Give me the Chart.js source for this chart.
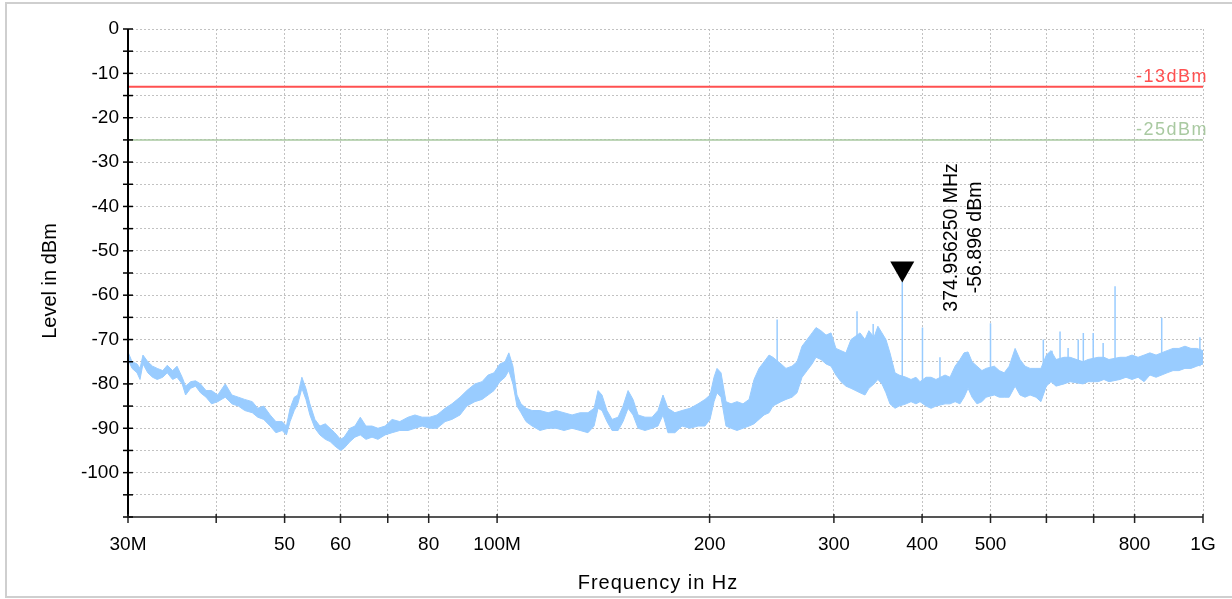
<!DOCTYPE html>
<html><head><meta charset="utf-8">
<script src="https://cdn.jsdelivr.net/npm/chart.js@4/dist/chart.umd.min.js"></script>
<style>
html,body{margin:0;padding:0;background:#fff;overflow:hidden;}
#frame{position:absolute;left:5px;top:2px;width:1250px;height:596px;border:2px solid #cfcfcf;box-sizing:border-box;}
#c{position:absolute;left:0;top:0;}
</style></head><body>
<div id="frame"></div>
<canvas id="c" width="1232" height="599"></canvas>
<script>
// ---- data (frequency in MHz, level in dBm) ----
const traceFreqMHz = [30.0,30.4,30.9,31.2,31.5,32.0,32.5,33.0,33.6,34.1,34.7,35.2,35.8,36.2,36.8,37.4,38.0,38.7,39.4,40.2,41.2,42.1,43.0,43.9,45.0,45.8,46.7,47.7,48.6,49.6,50.3,50.9,51.6,52.2,52.9,53.6,54.3,55.2,56.1,57.1,58.0,58.9,60.0,60.7,61.9,62.9,64.0,65.2,66.5,67.8,69.4,71.0,72.8,74.8,76.5,78.3,80.3,82.2,84.4,86.3,88.6,90.6,93.0,95.2,97.1,99.0,100.9,102.6,103.9,105.3,106.7,108.1,109.9,112.1,115.0,118.1,121.2,124.4,127.7,131.1,134.5,137.2,139.0,140.8,143.1,145.5,148.4,150.8,153.3,155.8,158.4,162.0,165.8,169.0,171.8,174.6,178.6,182.8,187.6,192.6,197.0,200.3,202.9,204.9,207.6,211.0,214.5,218.7,223.0,227.5,231.2,235.0,238.9,242.8,245.9,252.5,256.6,261.7,266.0,270.4,274.9,279.4,283.0,287.6,292.4,297.2,302.0,307.0,312.0,317.2,326.7,332.0,336.3,341.9,346.3,350.9,355.5,360.2,366.2,371.1,379.7,385.8,392.1,397.3,405.2,411.9,418.5,431.1,438.1,445.5,452.6,458.7,464.7,470.8,478.4,486.2,492.8,506.3,514.5,522.9,531.4,541.8,550.5,559.6,568.9,579.9,589.4,600.0,609.1,619.1,635.5,648.3,676.1,687.3,710.2,723.9,735.8,762.9,777.9,793.3,809.1,825.2,841.0,858.0,889.5,907.0,924.6,942.9,961.5,980.0,1000.0];
const traceUpper = [-72.8,-75.0,-75.5,-76.5,-73.5,-75.0,-76.0,-76.5,-77.0,-75.8,-77.0,-76.0,-78.5,-80.5,-79.5,-79.3,-80.0,-81.5,-81.5,-82.5,-80.0,-82.5,-83.0,-83.5,-84.0,-85.5,-85.0,-87.0,-88.5,-88.5,-89.5,-85.5,-83.0,-82.5,-78.5,-81.0,-84.5,-88.0,-89.5,-89.0,-90.0,-91.0,-92.5,-92.0,-90.0,-89.5,-87.5,-89.5,-89.5,-90.0,-89.5,-88.0,-88.5,-87.5,-87.0,-87.5,-87.5,-87.0,-85.5,-84.5,-83.0,-81.5,-80.0,-79.5,-78.0,-77.5,-75.5,-75.0,-73.0,-76.0,-82.5,-84.5,-85.5,-86.0,-86.0,-86.5,-86.0,-86.5,-87.0,-86.5,-86.5,-85.5,-81.5,-82.5,-86.0,-88.0,-87.5,-85.0,-81.5,-83.5,-87.0,-87.5,-87.5,-86.0,-82.5,-85.5,-86.5,-86.0,-85.5,-84.5,-83.5,-82.5,-78.5,-76.5,-77.5,-84.0,-84.5,-84.0,-84.5,-83.5,-79.0,-76.5,-75.0,-73.5,-74.0,-75.5,-76.5,-76.0,-75.0,-71.5,-70.0,-68.5,-67.3,-68.0,-69.0,-68.5,-72.0,-72.5,-73.0,-70.0,-68.5,-70.0,-68.0,-69.5,-67.0,-68.5,-70.0,-73.0,-77.5,-78.0,-78.5,-79.0,-78.5,-79.5,-78.5,-78.5,-79.0,-78.0,-78.5,-76.0,-74.5,-73.0,-72.8,-75.0,-76.0,-77.0,-76.5,-76.0,-77.0,-77.5,-76.0,-72.0,-74.5,-76.0,-76.5,-76.5,-76.5,-73.5,-72.5,-74.5,-74.0,-74.0,-75.0,-74.5,-74.0,-74.0,-74.5,-74.0,-74.0,-73.5,-74.0,-73.5,-73.0,-73.5,-72.5,-72.0,-72.0,-71.5,-72.0,-72.0,-72.5];
const traceLower = [-74.5,-76.5,-77.5,-79.0,-75.5,-77.5,-78.5,-79.0,-78.5,-77.5,-79.0,-78.5,-80.0,-82.5,-81.0,-80.5,-82.0,-83.0,-84.5,-84.0,-83.0,-84.5,-85.0,-86.0,-86.5,-87.5,-88.0,-89.5,-91.0,-90.5,-91.5,-88.5,-86.0,-84.5,-81.0,-83.5,-87.0,-90.0,-91.5,-92.5,-93.0,-94.0,-95.0,-94.5,-93.0,-92.0,-91.5,-92.5,-92.0,-92.5,-91.5,-91.0,-90.5,-90.5,-90.0,-89.5,-90.0,-90.0,-88.5,-88.0,-87.0,-85.0,-84.0,-83.5,-82.5,-81.5,-79.5,-78.5,-77.0,-80.0,-85.0,-86.5,-88.5,-89.5,-90.5,-90.0,-90.0,-90.5,-90.0,-90.5,-91.0,-89.5,-85.5,-86.0,-88.5,-90.5,-90.5,-88.5,-85.5,-87.0,-90.0,-90.5,-90.0,-89.5,-87.0,-91.0,-91.0,-89.5,-90.0,-89.5,-89.5,-88.0,-84.0,-82.0,-83.0,-89.5,-90.0,-90.5,-90.0,-89.5,-89.0,-88.0,-87.0,-86.5,-85.0,-84.0,-83.5,-83.0,-82.0,-78.5,-77.0,-75.5,-74.0,-74.5,-75.5,-76.0,-78.0,-79.5,-80.5,-81.0,-82.0,-82.5,-81.0,-80.0,-79.0,-80.0,-82.0,-84.5,-85.5,-85.0,-84.5,-84.0,-84.5,-84.0,-85.0,-85.5,-85.0,-84.5,-84.5,-84.0,-84.5,-83.0,-81.0,-83.0,-84.5,-84.0,-83.0,-82.5,-83.0,-83.0,-83.0,-80.5,-82.5,-83.0,-82.5,-83.0,-84.0,-80.5,-79.5,-80.5,-80.0,-79.5,-80.0,-79.5,-79.5,-79.0,-79.5,-79.0,-78.5,-79.0,-78.5,-79.5,-78.0,-78.5,-77.5,-77.0,-77.0,-76.5,-76.5,-76.0,-75.5];
// narrow single-frequency spikes
const spikeFreqMHz = [249.3,323.5,341.0,374.95625,400.5,424.0,500.0,594.0,611.0,627.3,644.0,665.6,676.8,699.0,722.0,750.6,874.0,990.0];
const spikeTop     = [-65.5,-63.6,-66.5,-56.896,-67.3,-74.0,-66.3,-70.0,-72.5,-68.2,-71.9,-70.0,-68.5,-68.5,-70.8,-58.0,-65.1,-69.5];
const spikeBase    = [-82.0,-80.0,-78.0,-83.0,-82.0,-83.0,-81.0,-80.0,-79.0,-79.0,-79.0,-79.0,-79.0,-79.0,-78.0,-78.0,-77.0,-76.0];
// marker
const markerFreqMHz = 374.95625;
const markerLevel = -56.896;
const markerText = ['374.956250 MHz', '-56.896 dBm'];
// limit lines
const limitLevels = [-13, -25];
const limitLabels = ['-13dBm', '-25dBm'];
const limitColors = ['#ff5050', '#a9c9a1'];
const limitWidths = [2, 1.5];
// axes
const xTickValues = [30,40,50,60,70,80,100,200,300,400,500,600,700,800,1000];
const xTickLabels = ['30M','','50','60','','80','100M','200','300','400','500','','','800','1G'];
const yMin = -110, yMax = 0, yStep = 5;
const xTitle = 'Frequency in Hz';
const yTitle = 'Level in dBm';

const FONT = "'Liberation Sans', Arial, Helvetica, sans-serif";
const TRACE = '#99ccff';

const upperPts = traceFreqMHz.map((f,i)=>({x:f, y:traceUpper[i]}));
const lowerPts = traceFreqMHz.map((f,i)=>({x:f, y:traceLower[i]}));
const spikePts = [];
spikeFreqMHz.forEach((f,i)=>{ spikePts.push({x:f,y:spikeBase[i]},{x:f,y:spikeTop[i]},{x:f,y:null}); });
const limitSets = limitLevels.map((lv,i)=>({
  data:[{x:xTickValues[0],y:lv},{x:xTickValues[xTickValues.length-1],y:lv}],
  borderColor:limitColors[i], borderWidth:limitWidths[i], pointRadius:0, fill:false
}));

const yTickList = [];
for (let v = yMin; v <= yMax; v += yStep) yTickList.push(v);

function spacedText(ctx, s, sp){ try { ctx.letterSpacing = sp; } catch(e) {} }

const deco = {
  id:'deco',
  afterDatasetsDraw(chart){
    const {ctx, chartArea:a, scales:{x, y}} = chart;
    ctx.save();
    // axis lines
    ctx.strokeStyle = '#555'; ctx.lineWidth = 2;
    ctx.beginPath(); ctx.moveTo(a.left, a.bottom); ctx.lineTo(a.right, a.bottom); ctx.stroke();
    ctx.strokeStyle = '#000'; ctx.lineWidth = 2;
    ctx.beginPath(); ctx.moveTo(a.left, a.top); ctx.lineTo(a.left, a.bottom+1); ctx.stroke();
    // crossing ticks on y
    ctx.lineWidth = 1.5;
    yTickList.forEach(v=>{
      const py = y.getPixelForValue(v);
      ctx.beginPath(); ctx.moveTo(a.left-5, py); ctx.lineTo(a.left+5, py); ctx.stroke();
    });
    // ticks on x
    ctx.strokeStyle = '#222';
    xTickValues.forEach(v=>{
      const px = x.getPixelForValue(v);
      ctx.beginPath(); ctx.moveTo(px, a.bottom-3); ctx.lineTo(px, a.bottom+6); ctx.stroke();
    });
    // limit labels
    ctx.font = '18px ' + FONT;
    ctx.textAlign = 'right'; ctx.textBaseline = 'alphabetic';
    spacedText(ctx, '', '1.5px');
    limitLevels.forEach((lv,i)=>{
      ctx.fillStyle = limitColors[i];
      ctx.fillText(limitLabels[i], a.right+5, y.getPixelForValue(lv)-5);
    });
    spacedText(ctx, '', '0px');
    // marker triangle
    const mx = x.getPixelForValue(markerFreqMHz), my = y.getPixelForValue(markerLevel);
    ctx.fillStyle = '#000';
    ctx.beginPath(); ctx.moveTo(mx, my+1); ctx.lineTo(mx-12, my-20); ctx.lineTo(mx+12, my-20); ctx.closePath(); ctx.fill();
    // marker text
    ctx.save();
    ctx.translate(mx+49, my-44); ctx.rotate(-Math.PI/2);
    ctx.font = '19.5px ' + FONT; ctx.textAlign = 'center'; ctx.textBaseline = 'middle';
    ctx.fillText(markerText[0], 0, 0);
    ctx.fillText(markerText[1], 0, 24);
    ctx.restore();
    // axis titles
    ctx.fillStyle = '#000';
    ctx.font = '20px ' + FONT; ctx.textAlign = 'center'; ctx.textBaseline = 'middle';
    spacedText(ctx, '', '1px');
    ctx.fillText(xTitle, 658, 583);
    spacedText(ctx, '', '0px');
    ctx.save();
    ctx.translate(50, 281); ctx.rotate(-Math.PI/2);
    ctx.font = '20px ' + FONT;
    ctx.fillText(yTitle, 0, 0);
    ctx.restore();
    ctx.restore();
  }
};

new Chart(document.getElementById('c'), {
  type:'line',
  data:{ datasets:[
    {data:upperPts, borderColor:TRACE, backgroundColor:TRACE, borderWidth:1, pointRadius:0, fill:'+1', tension:0},
    {data:lowerPts, borderColor:TRACE, borderWidth:1, pointRadius:0, fill:false, tension:0},
    {data:spikePts, borderColor:TRACE, borderWidth:1.5, pointRadius:0, fill:false, spanGaps:false},
    ...limitSets
  ]},
  options:{
    responsive:false, animation:false, devicePixelRatio:1,
    layout:{padding:{top:29, right:29, left:0, bottom:0}},
    plugins:{legend:{display:false}, tooltip:{enabled:false}},
    elements:{line:{borderJoinStyle:'round'}},
    scales:{
      x:{type:'logarithmic', min:30, max:1000,
        afterBuildTicks:s=>{ s.ticks = xTickValues.map(v=>({value:v})); },
        afterFit:s=>{ s.height = 82; },
        ticks:{autoSkip:false, maxRotation:0, minRotation:0, padding:16, color:'#000',
          font:{family:FONT, size:19},
          callback:(v)=>{ const k = xTickValues.indexOf(v); return k>=0 ? xTickLabels[k] : ''; }},
        grid:{color:'#c2c2c2', lineWidth:1, drawTicks:false},
        border:{display:false, dash:[2,2]}
      },
      y:{type:'linear', min:yMin, max:yMax,
        afterBuildTicks:s=>{ s.ticks = yTickList.map(v=>({value:v})); },
        afterFit:s=>{ s.width = 128; },
        ticks:{autoSkip:false, padding:9, color:'#000', font:{family:FONT, size:19},
          callback:(v)=> (v % 10 === 0 && v > yMin) ? String(v) : ''},
        grid:{color:'#c2c2c2', lineWidth:1, drawTicks:false},
        border:{display:false, dash:[2,2]}
      }
    }
  },
  plugins:[deco]
});
</script>
</body></html>
